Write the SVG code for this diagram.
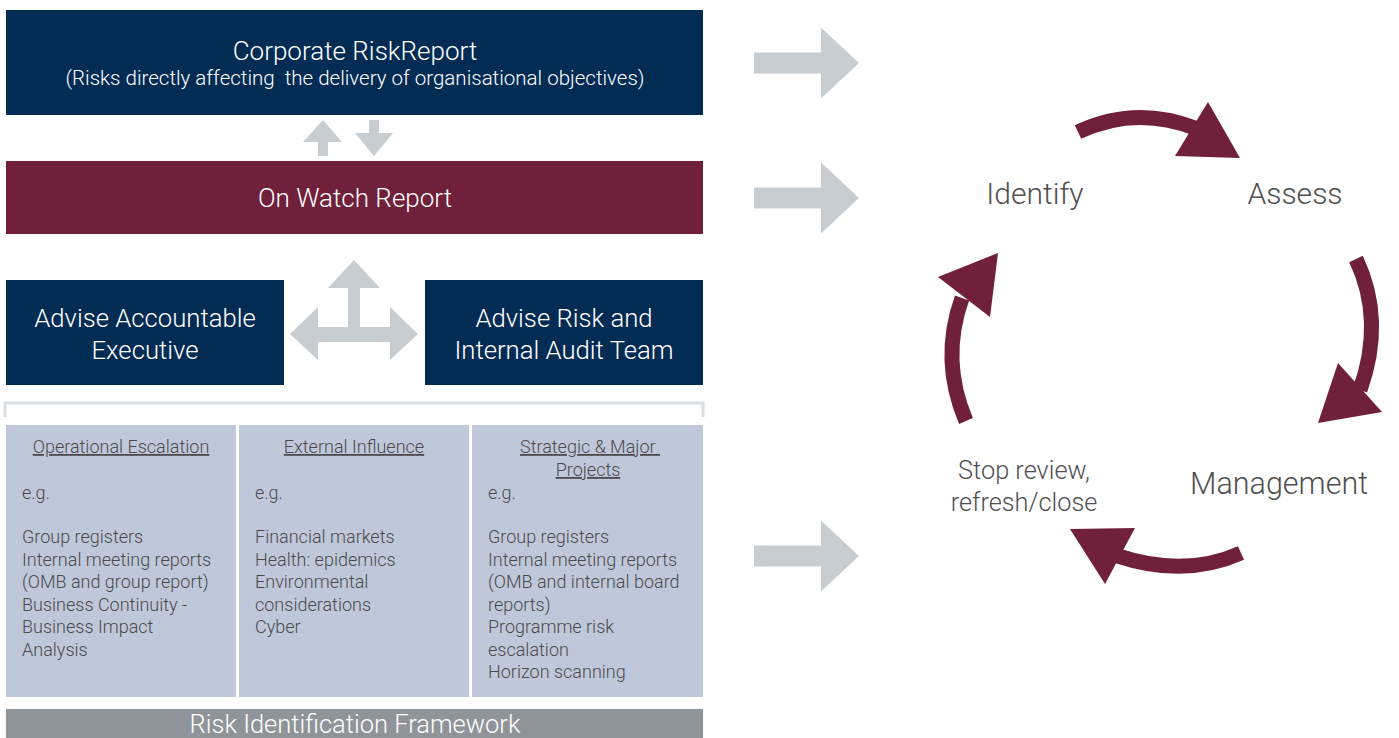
<svg xmlns="http://www.w3.org/2000/svg" width="1399" height="738" viewBox="0 0 1399 738">
<defs>
<style>
.t{font-family:Roboto,"Liberation Sans",Arial,sans-serif;font-weight:300}
.w{fill:#ffffff}
.navy{fill:#022c54}
.maroon{fill:#71203b}
.gray{fill:#c8cdd1}
.col{fill:#bfc8da}
.ct{font-family:Roboto,"Liberation Sans",Arial,sans-serif;font-weight:300;font-size:18px;fill:#4a4a4a}
.u{text-decoration:underline}
.cy{font-family:Roboto,"Liberation Sans",Arial,sans-serif;font-weight:300;fill:#505050}
.arc{fill:none;stroke:#71203b;stroke-width:15}
</style>
<path id="bigArrow" d="M754,-10.5 H821 V-35.5 L859,0 L821,35.5 V10.5 H754 Z"/>
</defs>
<rect width="1399" height="738" fill="#ffffff"/>

<g id="corporate-risk-report">
<rect class="navy" x="6" y="10" width="697" height="105"/>
<text class="t w" x="355" y="60" font-size="26" text-anchor="middle">Corporate RiskReport</text>
<text class="t w" x="355" y="85" font-size="20.5" text-anchor="middle" xml:space="preserve">(Risks directly affecting  the delivery of organisational objectives)</text>
</g>

<g id="on-watch-report">
<rect class="maroon" x="6" y="161" width="697" height="73"/>
<text class="t w" x="355" y="207" font-size="26" text-anchor="middle">On Watch Report</text>
</g>

<g id="advise-accountable-executive">
<rect class="navy" x="6" y="280" width="278" height="105"/>
<text class="t w" x="145" y="327" font-size="25.7" text-anchor="middle">Advise Accountable</text>
<text class="t w" x="145" y="359" font-size="25.7" text-anchor="middle">Executive</text>
</g>

<g id="advise-risk-audit">
<rect class="navy" x="425" y="280" width="278" height="105"/>
<text class="t w" x="564" y="327" font-size="25.7" text-anchor="middle">Advise Risk and</text>
<text class="t w" x="564" y="359" font-size="25.7" text-anchor="middle">Internal Audit Team</text>
</g>

<g id="bracket">
<path d="M5,417 V403 H703 V417" fill="none" stroke="#d9dee1" stroke-width="3"/>
</g>

<g id="operational-escalation">
<rect class="col" x="6" y="425" width="230" height="272"/>
<text class="ct u" x="121" y="453" text-anchor="middle">Operational Escalation</text>
<text class="ct" x="22" y="499">e.g.</text>
<text class="ct" x="22" y="543">Group registers</text>
<text class="ct" x="22" y="565.5">Internal meeting reports</text>
<text class="ct" x="22" y="588">(OMB and group report)</text>
<text class="ct" x="22" y="610.5">Business Continuity -</text>
<text class="ct" x="22" y="633">Business Impact</text>
<text class="ct" x="22" y="655.5">Analysis</text>
</g>

<g id="external-influence">
<rect class="col" x="239" y="425" width="230" height="272"/>
<text class="ct u" x="354" y="453" text-anchor="middle">External Influence</text>
<text class="ct" x="255" y="499">e.g.</text>
<text class="ct" x="255" y="543">Financial markets</text>
<text class="ct" x="255" y="565.5">Health: epidemics</text>
<text class="ct" x="255" y="588">Environmental</text>
<text class="ct" x="255" y="610.5">considerations</text>
<text class="ct" x="255" y="633">Cyber</text>
</g>

<g id="strategic-major-projects">
<rect class="col" x="472" y="425" width="231" height="272"/>
<text class="ct u" x="590" y="453" text-anchor="middle" xml:space="preserve">Strategic &amp; Major </text>
<text class="ct u" x="588" y="476" text-anchor="middle">Projects</text>
<text class="ct" x="488" y="499">e.g.</text>
<text class="ct" x="488" y="543">Group registers</text>
<text class="ct" x="488" y="565.5">Internal meeting reports</text>
<text class="ct" x="488" y="588">(OMB and internal board</text>
<text class="ct" x="488" y="610.5">reports)</text>
<text class="ct" x="488" y="633">Programme risk</text>
<text class="ct" x="488" y="655.5">escalation</text>
<text class="ct" x="488" y="678">Horizon scanning</text>
</g>

<g id="risk-identification-framework">
<rect x="6" y="709" width="697" height="29" fill="#8f9499"/>
<text class="t w" x="355" y="733" font-size="25.5" text-anchor="middle">Risk Identification Framework</text>
</g>

<g id="connectors">
<polygon class="gray" points="323,120 342,142 328,142 328,156 318,156 318,142 303,142"/>
<polygon class="gray" points="369,120 379,120 379,133 393,133 374,156 355,133 369,133"/>
<polygon class="gray" points="354,260 380,288 360,288 360,327 390,327 390,307 418,334 390,360 390,342 318,342 318,360 290,334 318,307 318,327 348,327 348,288 328,288"/>
<use href="#bigArrow" class="gray" transform="translate(0,63)"/>
<use href="#bigArrow" class="gray" transform="translate(0,198)"/>
<use href="#bigArrow" class="gray" transform="translate(0,556)"/>

<path class="arc" d="M1078,132 Q1135,105 1195,128"/>
<polygon class="maroon" points="1208,102 1240,158 1175,156"/>
<path class="arc" d="M1356,259 Q1385,320 1360,390"/>
<polygon class="maroon" points="1338,363 1382,412 1318,423"/>
<path class="arc" d="M1241,553 Q1185,578 1118,556"/>
<polygon class="maroon" points="1135,528 1105,584 1070,529"/>
<path class="arc" d="M966,421 Q940,360 962,298"/>
<polygon class="maroon" points="990,317 938,277 998,253"/>
</g>

<g id="identify"><text class="cy" x="1035" y="204" font-size="30" text-anchor="middle">Identify</text></g>
<g id="assess"><text class="cy" x="1295" y="204" font-size="30" text-anchor="middle">Assess</text></g>
<g id="management"><text class="cy" x="1279" y="494" font-size="30.5" text-anchor="middle">Management</text></g>
<g id="stop-review">
<text class="cy" x="1024" y="479" font-size="25.3" text-anchor="middle">Stop review,</text>
<text class="cy" x="1024" y="511" font-size="25.3" text-anchor="middle">refresh/close</text>
</g>
</svg>
